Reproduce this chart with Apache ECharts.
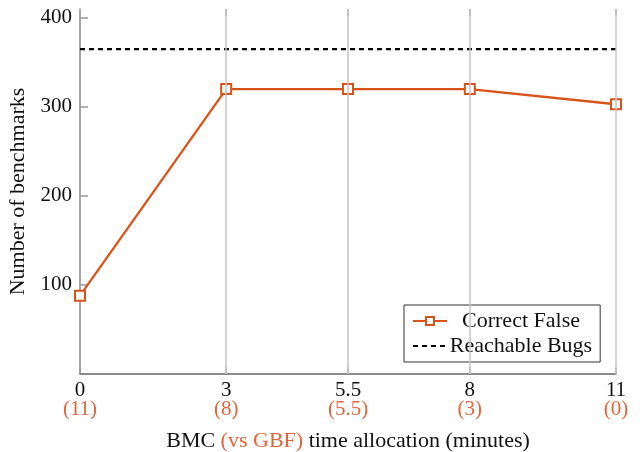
<!DOCTYPE html>
<html>
<head>
<meta charset="utf-8">
<script src="https://cdn.jsdelivr.net/npm/echarts@6/dist/echarts.min.js"></script>
<style>html,body{margin:0;padding:0;background:#fff}#c{width:640px;height:452px}</style>
</head>
<body>
<div id="c"></div>
<script>
const xValues = [0, 3, 5.5, 8, 11];
const gbfValues = [11, 8, 5.5, 3, 0];
const correctFalse = [88, 320, 320, 320, 303];
const reachableBugs = 365;
const yTickValues = [100, 200, 300, 400];

const ORANGE = '#D95319';
const LABEL_ORANGE = '#E0653A';
const FONT = 'Liberation Serif';

const chart = echarts.init(document.getElementById('c'), null, {renderer: 'canvas'});
const gbfMap = {};
xValues.forEach((v, i) => { gbfMap[v] = gbfValues[i]; });

chart.setOption({
  animation: false,
  textStyle: {fontFamily: FONT},
  grid: {left: 80, right: 24, top: 9, bottom: 78, containLabel: false, outerBoundsMode: 'none'},
  legend: {
    orient: 'vertical',
    left: 404, top: 305,
    data: [
      {name: 'Correct False'},
      {name: 'Reachable Bugs', itemStyle: {opacity: 0}}
    ],
    backgroundColor: '#fff',
    borderColor: '#333', borderWidth: 1, borderRadius: 0,
    padding: [5, 8, 5, 8],
    itemGap: 3,
    itemWidth: 34, itemHeight: 10,
    formatter: name => '{t|' + name + '}',
    textStyle: {
      fontFamily: FONT, fontSize: 22, color: '#111',
      rich: {t: {fontFamily: FONT, fontSize: 22, color: '#111', width: 138, align: 'center', lineHeight: 22}}
    },
    selectedMode: false
  },
  xAxis: [{
    type: 'value', min: 0, max: 11,
    name: '{k|BMC }{o|(vs GBF)}{k| time allocation (minutes)}',
    nameLocation: 'middle', nameGap: 56,
    nameTextStyle: {
      rich: {
        k: {fontFamily: FONT, fontSize: 22, color: '#111'},
        o: {fontFamily: FONT, fontSize: 22, color: LABEL_ORANGE}
      }
    },
    axisLine: {show: true, lineStyle: {color: '#666', width: 1.5}},
    axisTick: {show: true, inside: true, length: 7, customValues: xValues, lineStyle: {color: '#999', width: 1.5}},
    splitLine: {show: false},
    axisLabel: {
      customValues: xValues,
      margin: 7,
      formatter: v => '{a|' + v + '}\n{b|(' + gbfMap[v] + ')}',
      rich: {
        a: {fontFamily: FONT, fontSize: 21, color: '#111', lineHeight: 19},
        b: {fontFamily: FONT, fontSize: 21, color: LABEL_ORANGE, lineHeight: 19}
      }
    }
  }, {
    type: 'value', min: 0, max: 11, position: 'top',
    axisLine: {show: false},
    axisTick: {show: true, inside: true, length: 7, customValues: xValues.slice(1), lineStyle: {color: '#999', width: 1.5}},
    axisLabel: {show: false},
    splitLine: {show: false}
  }],
  yAxis: {
    type: 'value', min: 0, max: 410,
    name: 'Number of benchmarks',
    nameLocation: 'middle', nameGap: 43,
    nameTextStyle: {fontFamily: FONT, fontSize: 22, color: '#111'},
    axisLine: {show: true, lineStyle: {color: '#888', width: 1.5}},
    axisTick: {show: true, inside: true, length: 8, customValues: yTickValues, lineStyle: {color: '#999', width: 1.5}},
    splitLine: {show: false},
    axisLabel: {customValues: yTickValues, margin: 8, fontFamily: FONT, fontSize: 21, color: '#111'}
  },
  series: [{
    name: 'grid',
    type: 'line',
    data: [],
    silent: true,
    markLine: {
      silent: true, symbol: 'none', animation: false,
      label: {show: false},
      lineStyle: {color: '#c4c4c4', width: 1.5, type: 'solid'},
      data: xValues.slice(1).map(v => ({xAxis: v}))
    }
  }, {
    name: 'Reachable Bugs',
    type: 'line',
    data: [[xValues[0], reachableBugs], [xValues[xValues.length - 1], reachableBugs]],
    symbol: 'none',
    lineStyle: {color: '#000', width: 2.2, type: [5, 4]},
    itemStyle: {color: '#000'},
    z: 3
  }, {
    name: 'Correct False',
    type: 'line',
    data: xValues.map((x, i) => [x, correctFalse[i]]),
    symbol: 'emptyRect', symbolSize: 10,
    lineStyle: {color: ORANGE, width: 2.3},
    itemStyle: {color: ORANGE, borderColor: ORANGE, borderWidth: 2.3},
    z: 4
  }]
});
</script>
</body>
</html>
